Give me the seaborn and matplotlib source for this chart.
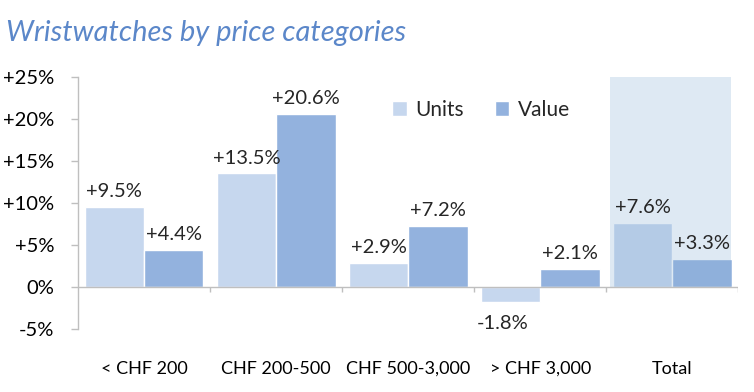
import numpy as np
import pandas as pd
import seaborn as sns
import matplotlib.pyplot as plt

# --- Data ---
categories = ["< CHF 200", "CHF 200-500", "CHF 500-3,000", "> CHF 3,000", "Total"]
units = [9.5, 13.5, 2.9, -1.8, 7.6]
value = [4.4, 20.6, 7.2, 2.1, 3.3]
yticks = [-5, 0, 5, 10, 15, 20, 25]

df = pd.DataFrame({
    "Category": categories * 2,
    "Series": ["Units"] * len(categories) + ["Value"] * len(categories),
    "Change": units + value,
})

# --- Style ---
sns.set_theme(style="white")
plt.rcParams["font.family"] = ["Lato", "DejaVu Sans"]

UNITS_COL = "#c6d7ee"
VALUE_COL = "#93b2de"
GRAY = "#bfbfbf"
FS = 14.5

fig = plt.figure(figsize=(7.54, 3.92), dpi=100)
ax = fig.add_axes([0.1034, 0.161, 0.876, 0.643])

sns.barplot(data=df, x="Category", y="Change", hue="Series", order=categories,
            palette=[UNITS_COL, VALUE_COL], width=0.9, gap=0, saturation=1,
            ax=ax, zorder=2)

ax.set_ylim(-5, 25)
ax.set_xlim(-0.5, len(categories) - 0.5)
ax.set_yticks(yticks)
ax.set_yticklabels([("+%d%%" % t) if t > 0 else ("%d%%" % t) for t in yticks],
                   fontsize=FS, color="black")
ax.set_xticks(range(len(categories)))
ax.set_xticklabels(categories, fontsize=13, color="black")
ax.tick_params(axis="x", length=0, pad=23)
ax.tick_params(axis="y", left=True, length=5, width=1, color=GRAY, pad=12)
ax.set_xlabel("")
ax.set_ylabel("")

for s in ["top", "right", "bottom"]:
    ax.spines[s].set_visible(False)
ax.spines["left"].set_color(GRAY)
ax.spines["left"].set_linewidth(1)

# zero line with category separators
ax.axhline(0, color=GRAY, lw=1, zorder=3)
sep = np.arange(len(categories) + 1) - 0.5
ax.vlines(sep[1:], -0.6, 0, color=GRAY, lw=1, zorder=3)

# highlight band behind Total
ti = categories.index("Total")
ax.axvspan(ti - 0.47, ti + 0.44, ymin=(0 - (-5)) / 30, ymax=1.0,
           color="#85aed4", alpha=0.27, lw=0, zorder=2.5)

# value labels
for cont in ax.containers:
    for bar in cont:
        h = bar.get_height()
        x = bar.get_x() + bar.get_width() / 2
        txt = ("+%.1f%%" % h) if h >= 0 else ("%.1f%%" % h)
        if h >= 0:
            ax.annotate(txt, (x, h), xytext=(0, 5), textcoords="offset points",
                        ha="center", va="bottom", fontsize=FS, zorder=4)
        else:
            ax.annotate(txt, (x, h), xytext=(-6, -9), textcoords="offset points",
                        ha="center", va="top", fontsize=FS, zorder=4)

leg = ax.legend(loc="center", bbox_to_anchor=(0.61, 0.87), ncol=2, frameon=False,
                fontsize=15, handlelength=0.7, handleheight=0.7, handletextpad=0.4,
                columnspacing=1.5)

fig.text(0.008, 0.915, "Wristwatches by price categories", fontsize=21,
         style="italic", color="#5b87c9", ha="left", va="center")

fig.savefig("out.png", dpi=100)
